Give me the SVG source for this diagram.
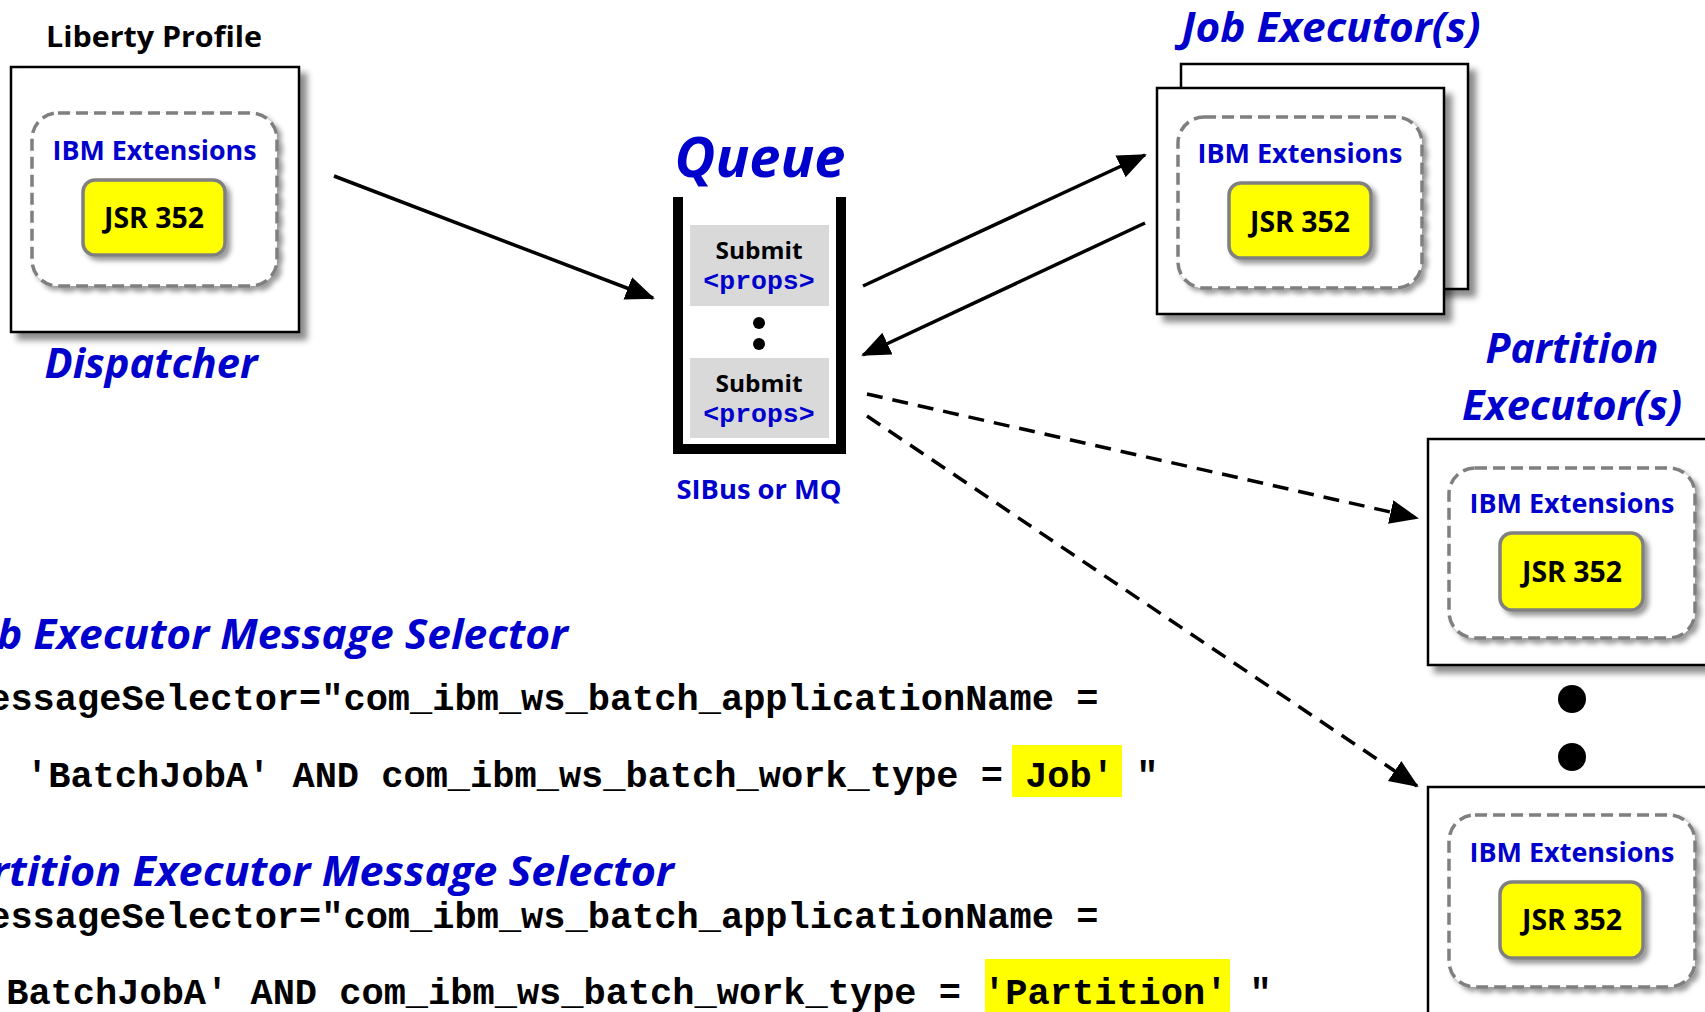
<svg xmlns="http://www.w3.org/2000/svg" width="1705" height="1012" viewBox="0 0 1705 1012">
<defs>
<style>
.box{fill:#fff;stroke:#000;stroke-width:2.5}
.ext{fill:#fff;stroke:#7f7f7f;stroke-width:3.5;stroke-dasharray:12 6}
.jsr{fill:#ffff00;stroke:#808080;stroke-width:3.5}
.t{font-family:"Open Sans",Lato,"Liberation Sans",sans-serif;font-weight:bold}
.blue{fill:#0000cc}
.ti{font-family:"Open Sans",Lato,"Liberation Sans",sans-serif;font-weight:bold;font-style:italic;fill:#0000cc}
.ext-t{font-size:26px;fill:#0000cc;text-anchor:middle}
.jsr-t{font-size:28px;fill:#000;text-anchor:middle}
.code{font-family:"Liberation Mono","Courier New",monospace;font-weight:bold;font-size:37px;fill:#000;white-space:pre}
.props{font-family:"Liberation Mono","Courier New",monospace;font-weight:bold;font-size:26.5px;fill:#0000cc;text-anchor:middle}
.conn{stroke:#000;stroke-width:3.5;fill:none}
.dash{stroke-dasharray:16 10}
</style>
<filter id="sh" x="-10%" y="-10%" width="130%" height="130%">
<feDropShadow dx="7" dy="7" stdDeviation="3" flood-color="#000" flood-opacity="0.45"/>
</filter>
<filter id="sh2" x="-10%" y="-10%" width="130%" height="130%">
<feDropShadow dx="4" dy="4" stdDeviation="2.5" flood-color="#000" flood-opacity="0.4"/>
</filter>
<marker id="ah" markerUnits="userSpaceOnUse" markerWidth="32" markerHeight="26" refX="27" refY="12" orient="auto">
<path d="M0,0 L29,12 L0,24 z" fill="#000"/>
</marker>
</defs>

<g id="dispatcher">
<text class="t" x="154" y="47" font-size="29" text-anchor="middle" fill="#000" textLength="216" lengthAdjust="spacingAndGlyphs">Liberty Profile</text>
<rect class="box" x="11" y="67" width="288" height="265" filter="url(#sh)"/>
<rect class="ext" x="32" y="113" width="245" height="173" rx="26" filter="url(#sh2)"/>
<text class="t ext-t" x="154.5" y="160" textLength="204" lengthAdjust="spacingAndGlyphs">IBM Extensions</text>
<rect class="jsr" x="83" y="180" width="142" height="75" rx="12" filter="url(#sh2)"/>
<text class="t jsr-t" x="154" y="228" textLength="100" lengthAdjust="spacingAndGlyphs">JSR 352</text>
<text class="ti" x="151" y="378" font-size="41" text-anchor="middle" textLength="213" lengthAdjust="spacingAndGlyphs">Dispatcher</text>
</g>

<g id="queue">
<text class="ti" x="760" y="177" font-size="55" text-anchor="middle" textLength="171" lengthAdjust="spacingAndGlyphs">Queue</text>
<path d="M678,197 V449 H841 V197" fill="#fff" stroke="#000" stroke-width="10"/>
<rect x="690" y="225" width="139" height="81" fill="#d9d9d9"/>
<text class="t" x="759" y="259" font-size="24" text-anchor="middle" fill="#000" textLength="87" lengthAdjust="spacingAndGlyphs">Submit</text>
<text class="props" x="759" y="289">&lt;props&gt;</text>
<circle cx="759" cy="323" r="6" fill="#000"/>
<circle cx="759" cy="344" r="6" fill="#000"/>
<rect x="690" y="358" width="139" height="80" fill="#d9d9d9"/>
<text class="t" x="759" y="392" font-size="24" text-anchor="middle" fill="#000" textLength="87" lengthAdjust="spacingAndGlyphs">Submit</text>
<text class="props" x="759" y="422">&lt;props&gt;</text>
<text class="t blue" x="759" y="499" font-size="26" text-anchor="middle" textLength="165" lengthAdjust="spacingAndGlyphs">SIBus or MQ</text>
</g>

<g id="job-executor">
<text class="ti" x="1331" y="42" font-size="42" text-anchor="middle" textLength="299" lengthAdjust="spacingAndGlyphs">Job Executor(s)</text>
<rect class="box" x="1181" y="64" width="287" height="225" filter="url(#sh)"/>
<rect class="box" x="1157" y="88" width="287" height="226" filter="url(#sh)"/>
<rect class="ext" x="1178" y="117" width="244" height="171" rx="26" filter="url(#sh2)"/>
<text class="t ext-t" x="1300" y="163" textLength="205" lengthAdjust="spacingAndGlyphs">IBM Extensions</text>
<rect class="jsr" x="1229" y="183" width="142" height="75" rx="12" filter="url(#sh2)"/>
<text class="t jsr-t" x="1300" y="232" textLength="100" lengthAdjust="spacingAndGlyphs">JSR 352</text>
</g>

<g id="partition-executor-1">
<text class="ti" x="1572" y="363" font-size="41" text-anchor="middle" textLength="173" lengthAdjust="spacingAndGlyphs">Partition</text>
<text class="ti" x="1572" y="420" font-size="41" text-anchor="middle" textLength="220" lengthAdjust="spacingAndGlyphs">Executor(s)</text>
<rect class="box" x="1428" y="439" width="300" height="226" filter="url(#sh)"/>
<rect class="ext" x="1449" y="468" width="246" height="170" rx="26" filter="url(#sh2)"/>
<text class="t ext-t" x="1572" y="513" textLength="205" lengthAdjust="spacingAndGlyphs">IBM Extensions</text>
<rect class="jsr" x="1500" y="533" width="143" height="77" rx="12" filter="url(#sh2)"/>
<text class="t jsr-t" x="1572" y="582" textLength="100" lengthAdjust="spacingAndGlyphs">JSR 352</text>
</g>

<g id="ellipsis">
<circle cx="1572" cy="699" r="14" fill="#000"/>
<circle cx="1572" cy="757" r="14" fill="#000"/>
</g>

<g id="partition-executor-2">
<rect class="box" x="1428" y="787" width="300" height="260" filter="url(#sh)"/>
<rect class="ext" x="1449" y="815" width="246" height="172" rx="26" filter="url(#sh2)"/>
<text class="t ext-t" x="1572" y="862" textLength="205" lengthAdjust="spacingAndGlyphs">IBM Extensions</text>
<rect class="jsr" x="1500" y="882" width="143" height="76" rx="12" filter="url(#sh2)"/>
<text class="t jsr-t" x="1572" y="930" textLength="100" lengthAdjust="spacingAndGlyphs">JSR 352</text>
</g>

<g id="connectors">
<line class="conn" x1="334" y1="176" x2="653" y2="298" marker-end="url(#ah)"/>
<line class="conn" x1="863" y1="286" x2="1145" y2="155" marker-end="url(#ah)"/>
<line class="conn" x1="1145" y1="223" x2="863" y2="355" marker-end="url(#ah)"/>
<line class="conn dash" x1="867" y1="394" x2="1417" y2="518" marker-end="url(#ah)"/>
<line class="conn dash" x1="867" y1="416" x2="1417" y2="786" marker-end="url(#ah)"/>
</g>

<g id="job-selector">
<text class="ti" x="568" y="649" font-size="41" text-anchor="end" textLength="610" lengthAdjust="spacingAndGlyphs">Job Executor Message Selector</text>
<text class="code" x="-34" y="710">messageSelector="com_ibm_ws_batch_applicationName =</text>
<rect x="1012" y="745" width="110" height="52" fill="#ffff00"/>
<text class="code" x="26" y="787">'BatchJobA' AND com_ibm_ws_batch_work_type = Job' "</text>
</g>

<g id="partition-selector">
<text class="ti" x="674" y="886" font-size="41" text-anchor="end" textLength="735" lengthAdjust="spacingAndGlyphs">Partition Executor Message Selector</text>
<text class="code" x="-34" y="928">messageSelector="com_ibm_ws_batch_applicationName =</text>
<rect x="985" y="959" width="245" height="53" fill="#ffff00"/>
<text class="code" x="-16" y="1004">'BatchJobA' AND com_ibm_ws_batch_work_type = 'Partition' "</text>
</g>
</svg>
